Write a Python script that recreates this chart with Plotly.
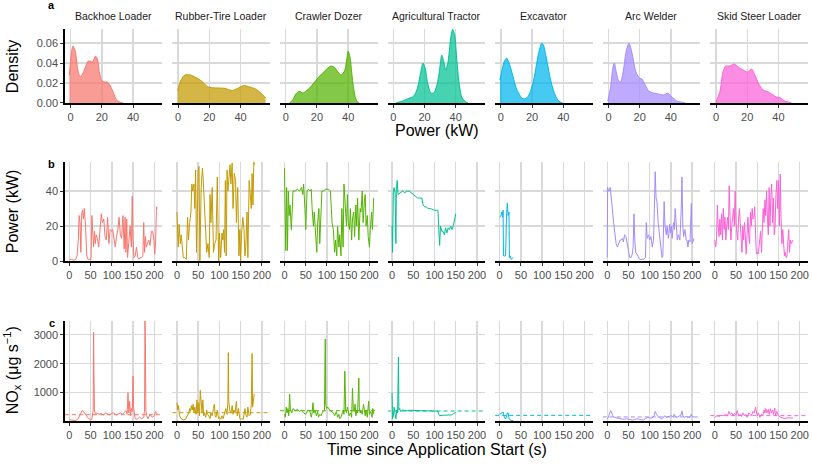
import plotly.graph_objects as go

W, H = 813, 469

machines = ["Backhoe Loader", "Rubber-Tire Loader", "Crawler Dozer", "Agricultural Tractor",
            "Excavator", "Arc Welder", "Skid Steer Loader"]
colors = ["#F8766D", "#C49A00", "#53B400", "#00C094", "#00B6EB", "#A58AFF", "#FB61D7"]

# ---------------- Row a: density of power (kW) ----------------
bl_dens_x = [-0.8, 0.5, 1.5, 3, 4.5, 6, 8, 10, 11.3, 12.5, 14, 16, 17.2, 18.5, 20, 21.5, 23.4, 25.5, 27.5, 29.4, 31.5, 33.6]
bl_dens_y = [0.028, 0.050, 0.057, 0.052, 0.034, 0.026, 0.030, 0.038, 0.042, 0.042, 0.041, 0.047, 0.044, 0.030, 0.022, 0.021, 0.021, 0.017, 0.010, 0.003, 0.001, 0.0]

rt_dens_x = [-0.3, 1.5, 3.5, 5.3, 8, 11.3, 15, 18.7, 22, 26, 30, 34.7, 38, 42, 46, 49.6, 53, 56]
rt_dens_y = [0.0125, 0.022, 0.027, 0.0285, 0.028, 0.0256, 0.022, 0.0164, 0.0152, 0.0150, 0.0146, 0.0125, 0.0145, 0.0174, 0.016, 0.014, 0.010, 0.005]

cd_dens_x = [2.5, 4.5, 6.5, 8.5, 11, 13, 15.3, 18, 20.6, 23, 25, 27, 29, 31, 33, 35.5, 37.7, 39, 40, 41.3, 42.2, 43, 44.7, 46, 47]
cd_dens_y = [0, 0.003, 0.009, 0.0118, 0.010, 0.012, 0.015, 0.020, 0.025, 0.029, 0.032, 0.035, 0.037, 0.036, 0.032, 0.028, 0.032, 0.042, 0.052, 0.045, 0.032, 0.020, 0.005, 0.001, 0]

at_dens_x = [1.7, 6, 9, 12.3, 14, 15.5, 17, 17.7, 19, 20.4, 22, 24, 26, 28.3, 29.8, 31, 32.3, 33.6, 35, 36.8, 38, 39.4, 40.6, 42, 43.8, 46.4, 48]
at_dens_y = [0, 0.002, 0.004, 0.006, 0.009, 0.015, 0.026, 0.032, 0.040, 0.035, 0.020, 0.010, 0.010, 0.020, 0.035, 0.048, 0.042, 0.033, 0.040, 0.065, 0.0738, 0.068, 0.045, 0.022, 0.006, 0.001, 0]

ex_dens_x = [-0.6, 1, 2.3, 3.6, 5.3, 7, 8.5, 10, 11.7, 13.3, 14.9, 16.5, 18, 19.7, 21.3, 23, 24.5, 26.2, 27.3, 28.5, 30, 31.6, 33.2, 34.8, 36.5, 38, 39.5]
ex_dens_y = [0.023, 0.035, 0.042, 0.045, 0.040, 0.031, 0.022, 0.014, 0.009, 0.005, 0.004, 0.005, 0.008, 0.015, 0.025, 0.040, 0.052, 0.060, 0.058, 0.050, 0.038, 0.025, 0.015, 0.008, 0.003, 0.001, 0]

aw_dens_x = [-0.4, 1.3, 2.8, 3.8, 5.1, 6.5, 7.7, 8.8, 9.8, 11.5, 13.2, 15.1, 17.2, 18.8, 20, 21.5, 23.6, 25.7, 28.9, 32.1, 35.3, 38.1, 40.6, 43.8, 46.5, 49]
aw_dens_y = [0.002, 0.015, 0.035, 0.040, 0.030, 0.022, 0.021, 0.026, 0.035, 0.053, 0.060, 0.050, 0.033, 0.027, 0.025, 0.024, 0.018, 0.012, 0.010, 0.009, 0.008, 0.0098, 0.006, 0.002, 0.0008, 0.0002]

ss_dens_x = [0, 2.6, 4.3, 6.2, 8.9, 11.7, 14.3, 17.4, 20.2, 22.8, 24.9, 27.4, 30.2, 33.4, 36.6, 38.7, 40.9, 44, 48.3]
ss_dens_y = [0.001, 0.012, 0.030, 0.037, 0.037, 0.039, 0.036, 0.033, 0.031, 0.034, 0.028, 0.019, 0.013, 0.011, 0.008, 0.006, 0.0055, 0.002, 0.0003]

# ---------------- Row b: power time series (kW) ----------------
bl_pow_t = [0, 5, 10, 15, 18, 21, 23, 25, 27, 29, 31, 33, 35, 38, 41, 44, 48, 51, 53, 55, 57, 59, 61, 63, 66, 69, 72, 75, 78, 81, 84, 87, 90, 93, 96, 99, 102, 105, 108, 111, 114, 117, 120, 123, 126, 129, 131, 133, 135, 137, 140, 143, 146, 148, 150, 152, 155, 158, 161, 164, 167, 170, 173, 175, 177, 179, 181, 184, 187, 190, 193, 196, 199, 201, 203, 205, 207]
bl_pow = [1, 1, 0.5, 1, 3, 12, 26, 22, 5, 27, 29, 24, 30, 20, 3, 1, 1, 1, 26, 14, 8, 17, 10, 15, 13, 8, 20, 27, 22, 24, 14, 12, 25, 10, 18, 17, 18, 12, 8, 14, 18, 25, 15, 13, 26, 7, 25, 5, 24, 2, 10, 20, 8, 37, 12, 2, 3, 8, 2, 1, 2, 2, 3, 22, 5, 14, 8, 10, 12, 9, 17, 17, 12, 4, 11, 31, 30]

rt_pow_t = [0, 3, 5, 8, 10, 13, 15, 18, 22, 25, 27, 30, 33, 35, 37, 40, 42, 44, 46, 48, 50, 52, 54, 57, 60, 62, 65, 68, 70, 73, 76, 78, 80, 83, 86, 89, 92, 95, 98, 100, 103, 106, 108, 110, 112, 114, 116, 118, 120, 122, 125, 127, 130, 132, 135, 138, 140, 143, 146, 148, 150, 152, 155, 158, 160, 162, 165, 167, 170, 172, 175, 177, 179, 181, 183]
rt_pow = [28, 8, 21, 10, 15, 5, 2, 2, 1, 25, 12, 22, 28, 44, 40, 44, 30, 52, 5, 28, 52, 54, 0, 42, 53, 46, 30, 15, 5, 10, 2, 38, 22, 42, 5, 10, 12, 48, 0, 16, 2, 16, 12, 18, 5, 46, 3, 52, 40, 46, 55, 44, 56, 30, 50, 46, 22, 42, 3, 18, 0, 15, 25, 18, 3, 8, 28, 2, 46, 40, 30, 50, 32, 56.6, 55]

cd_pow_t = [0, 3, 5, 7, 9, 11, 13, 16, 18, 20, 25, 30, 35, 40, 43, 45, 48, 50, 53, 56, 60, 63, 65, 68, 70, 73, 76, 78, 81, 83, 86, 88, 92, 96, 100, 104, 108, 112, 115, 118, 120, 123, 125, 128, 130, 133, 135, 138, 140, 143, 146, 148, 150, 153, 155, 158, 160, 163, 165, 168, 170, 172, 175, 178, 180, 183, 185, 188, 190, 192, 195, 197, 200, 202, 205, 207, 210]
cd_pow = [53, 6, 42, 6, 40, 26, 32, 18, 28, 40, 40, 41, 40, 42, 38, 44, 30, 18, 40, 41, 40, 41, 30, 20, 28, 12, 5, 22, 30, 10, 35, 40, 40, 41, 41, 41, 40, 22, 18, 5, 12, 3, 20, 8, 15, 3, 30, 8, 44, 28, 20, 38, 22, 18, 30, 12, 24, 28, 14, 32, 20, 36, 12, 30, 28, 40, 22, 34, 38, 20, 26, 14, 8, 18, 28, 18, 36]

at_pow_t = [0, 1, 3, 5, 7, 9, 10, 12, 14, 20, 25, 30, 35, 40, 45, 50, 55, 60, 65, 70, 73, 77, 80, 85, 90, 95, 100, 105, 108, 110, 112, 114, 117, 120, 123, 126, 129, 132, 135, 138, 141, 144, 147, 150]
at_pow = [20, 5, 40, 42, 39, 10, 40, 46, 38, 39, 40, 39, 40, 40, 39, 38, 37, 36, 36, 36, 32, 31, 31, 30, 30, 29.5, 29, 29, 29, 18, 9, 20, 17, 17, 15, 19, 16, 19, 18, 20, 18, 20, 24, 27]

ex_pow_t = [0, 3, 5, 7, 8, 9, 12, 14, 16, 18, 20, 22, 23, 25, 27, 30, 32]
ex_pow = [25, 26, 28, 25, 29, 3, 3, 3, 25, 33, 26, 28, 2, 3, 1, 2, 2]

aw_pow_t = [0, 1, 3, 5, 7, 9, 12, 15, 18, 21, 24, 27, 30, 33, 36, 38, 41, 44, 47, 50, 53, 56, 59, 61, 63, 65, 67, 70, 73, 76, 80, 85, 90, 92, 94, 97, 100, 103, 106, 109, 111, 113, 115, 117, 120, 123, 126, 129, 131, 134, 136, 139, 141, 144, 147, 149, 151, 153, 156, 158, 160, 162, 165, 168, 171, 174, 176, 178, 180, 183, 186, 188, 190, 192, 195, 198, 200, 202, 204]
aw_pow = [2, 42, 40, 40, 42, 38, 30, 22, 15, 10, 8, 10, 12, 12, 13, 11, 15, 14, 10, 4, 2, 2, 4, 8, 27, 12, 5, 4, 2, 1, 1, 1, 2, 22, 13, 15, 12, 14, 8, 12, 30, 51, 36, 34, 22, 15, 5, 2, 3, 34, 20, 15, 20, 13, 21, 16, 20, 13, 22, 18, 30, 21, 12, 15, 12, 28, 48, 20, 14, 18, 12, 12, 8, 12, 11, 33, 10, 11, 13]

ss_pow_t = [0, 2, 4, 6, 8, 10, 12, 14, 16, 18, 20, 22, 24, 26, 28, 30, 32, 34, 36, 38, 40, 42, 44, 46, 48, 50, 52, 54, 56, 58, 60, 62, 64, 66, 68, 70, 72, 74, 76, 78, 80, 82, 84, 86, 88, 90, 92, 94, 96, 98, 100, 102, 104, 106, 108, 110, 112, 114, 116, 118, 120, 122, 124, 126, 128, 130, 132, 134, 136, 138, 140, 142, 144, 146, 148, 150, 152, 154, 156, 158, 160, 162, 164, 166, 168, 170, 172, 174, 176, 178, 180, 182, 184]
ss_pow = [12, 8, 12, 32, 20, 14, 24, 15, 27, 12, 30, 18, 25, 12, 20, 25, 18, 43, 25, 12, 20, 28, 30, 20, 40, 22, 17, 12, 24, 30, 22, 13, 5, 20, 12, 22, 15, 4, 15, 25, 15, 10, 28, 20, 30, 24, 25, 31, 15, 4, 5, 4, 8, 12, 17, 5, 20, 30, 22, 35, 26, 40, 24, 15, 42, 20, 36, 44, 22, 36, 15, 20, 38, 46, 30, 46, 20, 49.6, 25, 10, 18, 5, 3, 5, 2, 3, 10, 18, 5, 12, 10, 11, 12]

# ---------------- Row c: NOx time series (ug/s) ----------------
bl_nox_t = [0, 5, 10, 15, 20, 25, 30, 33, 36, 40, 45, 50, 53, 56, 57, 58, 59, 61, 65, 70, 75, 80, 85, 90, 95, 100, 105, 110, 115, 120, 125, 130, 133, 136, 138, 140, 142, 144, 146, 148, 150, 151, 153, 155, 160, 165, 170, 175, 177, 178, 179, 180, 182, 185, 190, 195, 200, 203, 205, 207]
bl_nox = [60, 50, 40, 40, 80, 250, 380, 360, 300, 200, 100, 60, 80, 400, 3080, 1500, 400, 280, 300, 250, 280, 220, 300, 260, 230, 290, 300, 230, 280, 300, 250, 330, 380, 250, 1000, 300, 700, 200, 450, 350, 1570, 500, 150, 100, 80, 150, 100, 150, 400, 3477, 2700, 400, 200, 100, 250, 150, 200, 350, 300, 250]

rt_nox_t = [0, 2, 4, 6, 10, 15, 20, 25, 28, 30, 32, 34, 36, 38, 40, 42, 45, 47, 49, 51, 53, 55, 57, 59, 61, 63, 65, 68, 70, 72, 75, 78, 80, 83, 86, 88, 90, 92, 95, 98, 100, 103, 106, 109, 112, 115, 118, 120, 121, 122, 124, 127, 130, 132, 134, 137, 140, 142, 145, 148, 150, 153, 156, 158, 160, 162, 165, 167, 170, 173, 175, 177, 178, 180, 182]
rt_nox = [650, 400, 550, 200, 100, 60, 80, 200, 300, 450, 350, 550, 400, 600, 300, 500, 250, 750, 300, 650, 200, 1080, 500, 300, 750, 200, 300, 150, 400, 250, 200, 100, 300, 200, 450, 600, 200, 150, 400, 100, 150, 80, 200, 100, 300, 450, 250, 700, 2380, 700, 400, 300, 550, 250, 400, 300, 700, 200, 450, 100, 80, 100, 80, 300, 450, 250, 150, 500, 200, 250, 600, 2350, 500, 700, 950]

cd_nox_t = [0, 2, 4, 6, 8, 10, 12, 14, 17, 20, 25, 30, 35, 40, 45, 50, 55, 60, 63, 65, 67, 69, 72, 75, 78, 80, 83, 86, 90, 94, 96, 97, 99, 102, 106, 110, 115, 118, 122, 125, 128, 130, 133, 136, 138, 140, 142, 144, 146, 148, 150, 152, 155, 158, 160, 162, 164, 166, 168, 170, 172, 175, 176, 178, 180, 183, 186, 188, 190, 192, 195, 198, 200, 203, 206, 208, 210]
cd_nox = [250, 150, 500, 300, 450, 200, 950, 400, 300, 450, 380, 420, 350, 400, 300, 250, 400, 350, 150, 300, 650, 300, 400, 200, 350, 150, 250, 200, 350, 400, 2850, 600, 450, 500, 400, 350, 300, 200, 350, 150, 250, 100, 150, 300, 400, 250, 1740, 400, 300, 500, 350, 200, 300, 150, 1150, 400, 350, 600, 200, 400, 300, 1500, 500, 300, 400, 250, 600, 300, 200, 400, 150, 700, 250, 350, 150, 450, 250]

at_nox_t = [0, 1, 3, 5, 7, 9, 11, 13, 15, 16, 18, 20, 25, 30, 35, 40, 50, 60, 70, 80, 90, 100, 108, 110, 112, 120, 130, 140, 145, 150]
at_nox = [1000, 100, 200, 500, 250, 100, 400, 300, 2230, 400, 450, 350, 400, 380, 370, 390, 380, 370, 375, 370, 370, 365, 360, 250, 200, 220, 220, 230, 280, 320]

ex_nox_t = [0, 3, 6, 8, 10, 12, 15, 18, 20, 22, 25, 28, 32]
ex_nox = [250, 280, 320, 330, 200, 120, 110, 300, 300, 110, 50, 30, 30]

aw_nox_t = [0, 3, 6, 8, 10, 13, 16, 20, 25, 30, 35, 40, 45, 50, 55, 60, 65, 70, 75, 80, 85, 90, 95, 100, 105, 110, 113, 115, 118, 122, 126, 130, 135, 140, 145, 150, 155, 158, 160, 165, 170, 173, 176, 178, 182, 186, 190, 195, 198, 200, 204]
aw_nox = [80, 150, 300, 380, 330, 200, 150, 130, 120, 100, 90, 80, 100, 80, 60, 50, 70, 100, 80, 60, 50, 100, 150, 120, 130, 180, 350, 280, 200, 150, 90, 100, 200, 150, 180, 200, 170, 250, 180, 150, 200, 200, 370, 200, 150, 180, 150, 160, 250, 180, 160]

ss_nox_t = [0, 5, 10, 15, 20, 25, 30, 33, 36, 40, 43, 46, 50, 53, 56, 60, 63, 66, 70, 73, 76, 80, 83, 86, 90, 93, 96, 98, 100, 103, 106, 110, 113, 116, 118, 120, 123, 126, 128, 131, 133, 136, 138, 141, 143, 146, 148, 150, 155, 160, 165, 170, 175, 180, 184]
ss_nox = [150, 200, 180, 220, 200, 250, 200, 350, 250, 300, 200, 280, 220, 380, 200, 250, 180, 300, 200, 250, 150, 300, 250, 200, 350, 300, 500, 250, 200, 300, 150, 250, 200, 400, 300, 450, 300, 420, 250, 450, 300, 400, 250, 470, 200, 350, 250, 200, 150, 120, 100, 130, 120, 110, 120]

# mean NOx reference level per machine (dashed line)
nox_ref = [239, 307, 375, 365, 215, 160, 205]

# tick labels
dens_ticks = [0, 20, 40]
dens_yticks = [0.00, 0.02, 0.04, 0.06]
time_ticks = [0, 50, 100, 150, 200]
pow_yticks = [0, 20, 40]
nox_yticks = [1000, 2000, 3000]

dens_x = [bl_dens_x, rt_dens_x, cd_dens_x, at_dens_x, ex_dens_x, aw_dens_x, ss_dens_x]
dens_y = [bl_dens_y, rt_dens_y, cd_dens_y, at_dens_y, ex_dens_y, aw_dens_y, ss_dens_y]
pow_t = [bl_pow_t, rt_pow_t, cd_pow_t, at_pow_t, ex_pow_t, aw_pow_t, ss_pow_t]
pow_v = [bl_pow, rt_pow, cd_pow, at_pow, ex_pow, aw_pow, ss_pow]
nox_t = [bl_nox_t, rt_nox_t, cd_nox_t, at_nox_t, ex_nox_t, aw_nox_t, ss_nox_t]
nox_v = [bl_nox, rt_nox, cd_nox, at_nox, ex_nox, aw_nox, ss_nox]


def rgba(hexc, a):
    h = hexc.lstrip("#")
    return "rgba(%d,%d,%d,%.2f)" % (int(h[0:2], 16), int(h[2:4], 16), int(h[4:6], 16), a)


FONT = "Liberation Sans, Arial, sans-serif"
col_left = [65 + 107.7 * k for k in range(7)]
col_w = 97.6
rows_px = [(29, 104.3), (164, 264.5), (325, 426.7)]
x_ranges = [[-3.65, 58.85], [-10.5, 219], [-10.5, 219]]
y_ranges = [[0, 0.0745], [0, 56.6], [12, 3477]]
x_ticks = [dens_ticks, time_ticks, time_ticks]
y_ticks = [dens_yticks, pow_yticks, nox_yticks]
y_ticktext = [["0.00", "0.02", "0.04", "0.06"], ["0", "20", "40"], ["1000", "2000", "3000"]]

fig = go.Figure()
layout = {}
shapes = []
GRID = "#D9D9D9"

for r in range(3):
    top, bot = rows_px[r]
    for c in range(7):
        n = r * 7 + c + 1
        xa = "x" if n == 1 else "x%d" % n
        ya = "y" if n == 1 else "y%d" % n
        xkey = "xaxis" if n == 1 else "xaxis%d" % n
        ykey = "yaxis" if n == 1 else "yaxis%d" % n
        left = col_left[c]
        layout[xkey] = dict(
            domain=[left / W, (left + col_w) / W], anchor=ya, range=x_ranges[r],
            tickvals=x_ticks[r], ticktext=[str(v) for v in x_ticks[r]],
            showgrid=True, gridcolor=GRID, gridwidth=1.4, zeroline=False,
            showline=True, linecolor="black", linewidth=1.6,
            ticks="outside", ticklen=3, tickcolor="#333333", tickwidth=1,
            ticklabeloverflow="allow",
            tickfont=dict(size=11, color="#4D4D4D", family=FONT), fixedrange=True,
        )
        layout[ykey] = dict(
            domain=[1 - bot / H, 1 - top / H], anchor=xa, range=y_ranges[r],
            tickvals=y_ticks[r], ticktext=y_ticktext[r],
            showgrid=True, gridcolor=GRID, gridwidth=1.4, zeroline=False,
            showline=(c == 0), linecolor="black", linewidth=1.6,
            ticks="outside" if c == 0 else "", ticklen=3, tickcolor="#333333", tickwidth=1,
            showticklabels=(c == 0),
            tickfont=dict(size=11, color="#4D4D4D", family=FONT), fixedrange=True,
        )
        if r == 0:
            fig.add_trace(go.Scatter(
                x=dens_x[c], y=dens_y[c], mode="lines", fill="tozeroy",
                fillcolor=rgba(colors[c], 0.72),
                line=dict(color=colors[c], width=1, shape="spline", smoothing=0.6),
                xaxis=xa, yaxis=ya, showlegend=False, hoverinfo="skip"))
        elif r == 1:
            fig.add_trace(go.Scatter(
                x=pow_t[c], y=pow_v[c], mode="lines",
                line=dict(color=colors[c], width=1),
                xaxis=xa, yaxis=ya, showlegend=False, hoverinfo="skip"))
        else:
            shapes.append(dict(type="line", xref="%s domain" % xa, yref=ya,
                               x0=0, x1=1, y0=nox_ref[c], y1=nox_ref[c],
                               line=dict(color=colors[c], width=1, dash="4px,3px"), layer="below"))
            fig.add_trace(go.Scatter(
                x=nox_t[c], y=nox_v[c], mode="lines",
                line=dict(color=colors[c], width=1),
                xaxis=xa, yaxis=ya, showlegend=False, hoverinfo="skip"))

annotations = []
# strip titles
for c in range(7):
    annotations.append(dict(text=machines[c], x=(col_left[c] + col_w / 2) / W, y=1 - 16 / H,
                            xref="paper", yref="paper", showarrow=False,
                            xanchor="center", yanchor="middle",
                            font=dict(size=10.5, color="#1A1A1A", family=FONT)))
# panel letters
for lab, py in [("a", 5), ("b", 166), ("c", 327)]:
    annotations.append(dict(text="<b>%s</b>" % lab, x=52 / W, y=1 - py / H, xref="paper", yref="paper",
                            showarrow=False, xanchor="center", yanchor="middle",
                            font=dict(size=11, color="black", family=FONT)))
# axis titles
annotations.append(dict(text="Power (kW)", x=437.5 / W, y=1 - 132 / H, xref="paper", yref="paper",
                        showarrow=False, xanchor="center", yanchor="middle",
                        font=dict(size=16, color="black", family=FONT)))
annotations.append(dict(text="Time since Application Start (s)", x=437.5 / W, y=1 - 455 / H,
                        xref="paper", yref="paper", showarrow=False, xanchor="center", yanchor="middle",
                        font=dict(size=16, color="black", family=FONT)))
for txt, py in [("Density", 67), ("Power (kW)", 214), ("NO<sub>x</sub> (μg s<sup>−1</sup>)", 375)]:
    annotations.append(dict(text=txt, x=12 / W, y=1 - py / H, xref="paper", yref="paper",
                            showarrow=False, xanchor="center", yanchor="middle", textangle=-90,
                            font=dict(size=16, color="black", family=FONT)))

fig.update_layout(
    width=W, height=H, margin=dict(l=0, r=0, t=0, b=0),
    paper_bgcolor="white", plot_bgcolor="white",
    showlegend=False, annotations=annotations, shapes=shapes,
    font=dict(family=FONT), **layout)

fig.write_html("out.html", config={"displayModeBar": False, "staticPlot": True},
               post_script="document.body.style.margin='0';document.body.style.padding='0';")
